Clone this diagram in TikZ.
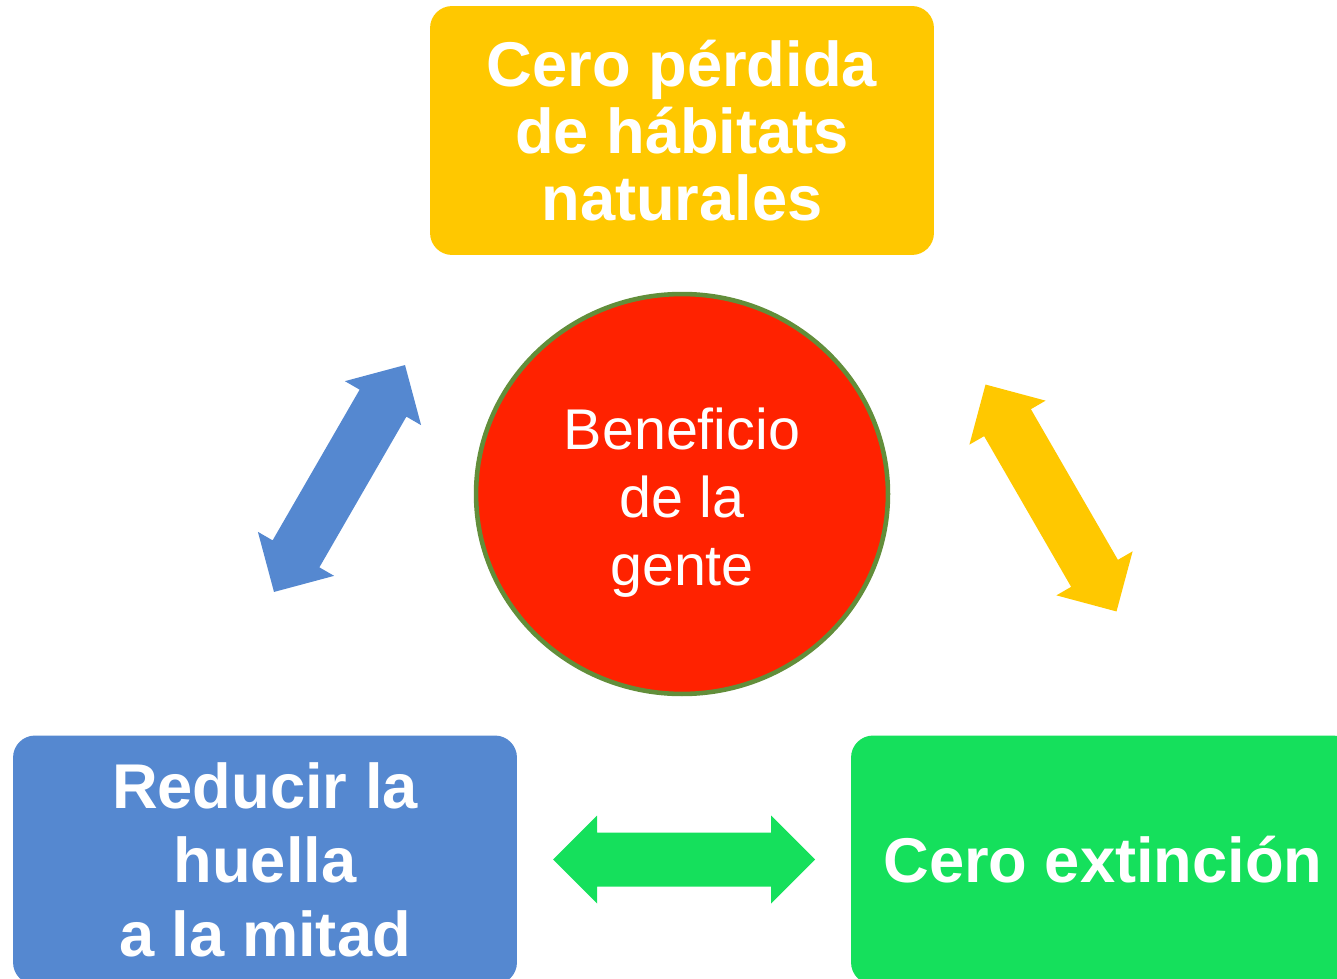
\documentclass[tikz,border=0pt]{standalone}
\usepackage{fontspec}
\setmainfont{Liberation Sans}
\usetikzlibrary{positioning}
\usetikzlibrary{shapes.geometric}

\definecolor{goalyellow}{RGB}{255,200,0}
\definecolor{goalblue}{RGB}{85,136,208}
\definecolor{goalgreen}{RGB}{21,224,92}
\definecolor{centrered}{RGB}{255,34,0}
\definecolor{centreedge}{RGB}{98,142,58}

\tikzset{
    goalbox/.style={rectangle, rounded corners=0.44cm,
        minimum width=10.08cm, minimum height=4.98cm,
        text=white, align=center, inner sep=0pt,
        font=\fontsize{36}{38}\selectfont\bfseries},
    centre/.style={ellipse, fill=centrered, draw=centreedge,
        line width=2.6pt, minimum width=8.24cm, minimum height=8cm,
        inner sep=0pt},
    centretext/.style={text=white, align=center, inner sep=0pt,
        font=\fontsize{32.7}{38.6}\selectfont}
}

% block arrow with two heads, drawn along local x
\newcommand{\twowayarrow}[3]{%
    \fill[#1, shift={#2}, rotate=#3]
        (-131,0) -- (-87,44) -- (-87,27) -- (87,27) -- (87,44)
        -- (131,0) -- (87,-44) -- (87,-27) -- (-87,-27)
        -- (-87,-44) -- cycle;
}

\begin{document}
\begin{tikzpicture}[x=0.02cm, y=-0.02cm]
    % Frame (boxes run off the right and bottom edges)
    \useasboundingbox (0,0) rectangle (1337,979);
    \clip (0,0) rectangle (1337,979);

    % Three goals
    \node[goalbox, fill=goalyellow] (habitat) at (682,130.5)
        {Cero pérdida\\de hábitats\\naturales};
    \node[goalbox, fill=goalblue,
        font=\fontsize{36}{42.3}\selectfont\bfseries] (footprint) at (265,860)
        {Reducir la\\huella\\a la mitad};
    \node[goalbox, fill=goalgreen] (extinction) at (1103,860)
        {Cero extinción};

    % Centre
    \node[centre] (people) at (682,494) {};
    \node[centretext] (peopletext) at ([yshift=-0.17cm]people.center)
        {Beneficio\\de la\\gente};

    % Arrows between the goals
    \coordinate (arrL) at (339.5,478.5);
    \coordinate (arrR) at (1051,498);
    \coordinate (arrB) at (684,859.5);
    \twowayarrow{goalblue}{(arrL)}{60}
    \twowayarrow{goalyellow}{(arrR)}{-60}
    \twowayarrow{goalgreen}{(arrB)}{0}

\end{tikzpicture}
\end{document}
